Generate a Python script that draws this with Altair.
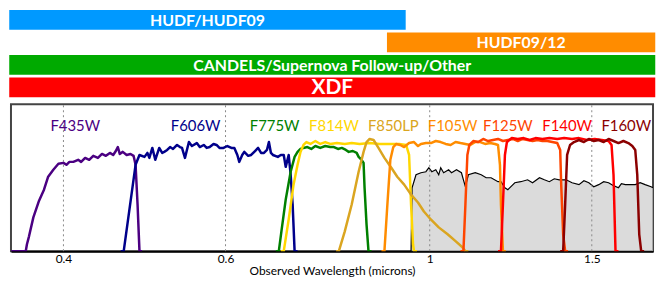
import altair as alt
import pandas as pd

# ---------------- survey coverage bars (wavelength in microns) ----------------
surveys = ["HUDF/HUDF09", "HUDF09/12", "CANDELS/Supernova Follow-up/Other", "XDF"]
survey_start = [0.3484, 0.8973, 0.3484, 0.3484]
survey_end = [0.9404, 1.757, 1.757, 1.757]
survey_colors = ["#0099ff", "#ff8c00", "#00aa00", "#ff0000"]

# ---------------- filter names, colours, label anchors ----------------
filters = ["F435W", "F606W", "F775W", "F814W", "F850LP", "F105W", "F125W", "F140W", "F160W"]
filter_colors = ["#4b0082", "#00008b", "#008000", "#ffd700", "#daa520",
                 "#ff8c00", "#ff4500", "#ff0000", "#8b0000"]
label_wl = [0.412, 0.5567, 0.6785, 0.787, 0.913, 1.059, 1.216, 1.410, 1.635]

tick_values = [0.4, 0.6, 1, 1.5]

# ---------------- filter throughput curves ----------------
f435w_wl = [0.351, 0.364, 0.3651, 0.367, 0.371, 0.376, 0.381, 0.385, 0.390, 0.395, 0.400, 0.403, 0.406,
            0.410, 0.415, 0.4181, 0.4223, 0.4266, 0.431, 0.436, 0.4405, 0.4448, 0.4493, 0.453, 0.456,
            0.4583, 0.4605, 0.464, 0.4685, 0.4731, 0.4767, 0.4791, 0.4815, 0.4838, 0.487]
f435w_t = [0, 0, 0.047, 0.101, 0.230, 0.338, 0.419, 0.507, 0.554, 0.595, 0.601, 0.588, 0.608, 0.608,
           0.622, 0.608, 0.635, 0.622, 0.649, 0.635, 0.662, 0.649, 0.669, 0.655, 0.682, 0.709, 0.662,
           0.676, 0.655, 0.662, 0.649, 0.588, 0.318, 0, 0]

f606w_wl = [0.4616, 0.4651, 0.4791, 0.4838, 0.4899, 0.4935, 0.4959, 0.4996, 0.5033, 0.5083, 0.5121,
            0.5147, 0.5185, 0.5223, 0.5262, 0.5315, 0.5354, 0.5381, 0.5421, 0.5475, 0.5516, 0.5584,
            0.5626, 0.5682, 0.5724, 0.5767, 0.5823, 0.5867, 0.5910, 0.5970, 0.6028, 0.6089, 0.6134,
            0.6180, 0.6210, 0.6256, 0.6288, 0.6350, 0.6397, 0.6460, 0.6509, 0.6558, 0.6606, 0.6655,
            0.6688, 0.6722, 0.6755, 0.6839, 0.6890, 0.6941, 0.6975, 0.7027, 0.7062, 0.7097, 0.7132, 0.7185]
f606w_t = [0, 0, 0.588, 0.655, 0.642, 0.669, 0.635, 0.703, 0.622, 0.703, 0.669, 0.676, 0.689, 0.709,
           0.696, 0.723, 0.709, 0.703, 0.635, 0.743, 0.716, 0.736, 0.709, 0.723, 0.703, 0.709, 0.730,
           0.723, 0.703, 0.703, 0.716, 0.703, 0.703, 0.655, 0.608, 0.655, 0.676, 0.649, 0.655, 0.682,
           0.703, 0.669, 0.669, 0.689, 0.743, 0.669, 0.655, 0.642, 0.655, 0.655, 0.574, 0.655, 0.520,
           0.318, 0, 0]

f775w_wl = [0.6805, 0.6856, 0.6905, 0.6975, 0.7062, 0.7132, 0.7185, 0.7238, 0.7292, 0.7363, 0.7436,
            0.7512, 0.7605, 0.7700, 0.7796, 0.7869, 0.7950, 0.8026, 0.8108, 0.8166, 0.8250, 0.8330,
            0.8371, 0.8433, 0.8475, 0.8496, 0.8538, 0.8580, 0.8646]
f775w_t = [0, 0, 0.149, 0.351, 0.541, 0.642, 0.676, 0.696, 0.703, 0.709, 0.696, 0.716, 0.703, 0.716,
           0.709, 0.709, 0.696, 0.703, 0.689, 0.676, 0.682, 0.669, 0.642, 0.622, 0.601, 0.432, 0.182, 0, 0]

f814w_wl = [0.6890, 0.6941, 0.7027, 0.7113, 0.7185, 0.7238, 0.7292, 0.7345, 0.7420, 0.7512, 0.7605,
            0.7700, 0.7796, 0.7928, 0.8086, 0.8227, 0.8391, 0.8604, 0.8819, 0.9039, 0.9265, 0.9428,
            0.9497, 0.9544, 0.9591, 0.9615, 0.9687]
f814w_t = [0, 0, 0.216, 0.453, 0.588, 0.676, 0.723, 0.743, 0.730, 0.750, 0.730, 0.743, 0.730, 0.736,
           0.730, 0.736, 0.730, 0.736, 0.730, 0.730, 0.730, 0.723, 0.655, 0.318, 0.047, 0, 0]

f850lp_wl = [0.7912, 0.7967, 0.8086, 0.8227, 0.8371, 0.8475, 0.8538, 0.8604, 0.8690, 0.8797, 0.8929,
             0.9084, 0.9220, 0.9381, 0.9544, 0.9711, 0.9856, 1.0028, 1.0228, 1.0458, 1.0667, 1.0853,
             1.0934, 1.1015]
f850lp_t = [0, 0, 0.135, 0.318, 0.541, 0.676, 0.743, 0.764, 0.757, 0.703, 0.635, 0.568, 0.507, 0.453,
            0.385, 0.331, 0.270, 0.216, 0.162, 0.115, 0.068, 0.027, 0, 0]

f105w_wl = [0.8863, 0.8929, 0.8995, 0.9062, 0.9129, 0.9197, 0.9289, 0.9381, 0.9497, 0.9615, 0.9711,
            0.9783, 0.9905, 1.0028, 1.0153, 1.0279, 1.0407, 1.0536, 1.0667, 1.0800, 1.0934, 1.1070,
            1.1207, 1.1347, 1.1487, 1.1630, 1.1775, 1.1863, 1.1921, 1.1951, 1.2010, 1.2099]
f105w_t = [0, 0, 0.318, 0.622, 0.709, 0.730, 0.723, 0.709, 0.736, 0.743, 0.716, 0.730, 0.736, 0.736,
           0.750, 0.743, 0.730, 0.723, 0.743, 0.736, 0.730, 0.723, 0.743, 0.743, 0.730, 0.736, 0.730,
           0.723, 0.588, 0.318, 0, 0]

f125w_wl = [1.0800, 1.0880, 1.0934, 1.0988, 1.1042, 1.1152, 1.1291, 1.1432, 1.1573, 1.1717, 1.1863,
            1.2010, 1.2159, 1.2311, 1.2464, 1.2618, 1.2775, 1.2934, 1.3095, 1.3257, 1.3422, 1.3589,
            1.3758, 1.3860, 1.3895, 1.3963, 1.4033, 1.4137]
f125w_t = [0, 0, 0.318, 0.655, 0.723, 0.750, 0.743, 0.764, 0.750, 0.757, 0.764, 0.750, 0.757, 0.764,
           0.750, 0.764, 0.757, 0.750, 0.757, 0.750, 0.750, 0.743, 0.736, 0.689, 0.453, 0.115, 0, 0]

f140w_wl = [1.1863, 1.1951, 1.2010, 1.2070, 1.2130, 1.2280, 1.2464, 1.2650, 1.2839, 1.3030, 1.3257,
            1.3489, 1.3758, 1.3998, 1.4278, 1.4526, 1.4816, 1.5112, 1.5376, 1.5644, 1.5760, 1.5838,
            1.5917, 1.6035]
f140w_t = [0, 0, 0.318, 0.655, 0.743, 0.770, 0.764, 0.770, 0.757, 0.770, 0.764, 0.770, 0.764, 0.770,
           0.764, 0.770, 0.757, 0.764, 0.757, 0.750, 0.723, 0.520, 0, 0]

f160w_wl = [1.3860, 1.3963, 1.4033, 1.4102, 1.4206, 1.4348, 1.4526, 1.4707, 1.4890, 1.5074, 1.5262,
            1.5454, 1.5644, 1.5838, 1.6035, 1.6235, 1.6437, 1.6600, 1.6723, 1.6807, 1.6890, 1.6973, 1.7100]
f160w_t = [0, 0, 0.318, 0.655, 0.723, 0.743, 0.757, 0.743, 0.764, 0.750, 0.757, 0.743, 0.764, 0.750,
           0.736, 0.750, 0.736, 0.716, 0.689, 0.520, 0.115, 0, 0]

# ---------------- galaxy spectrum (grey filled) ----------------
spectrum_wl = [0.9544, 0.9568, 0.9663, 0.9783, 0.9905, 0.9978, 1.0053, 1.0153, 1.0228, 1.0279, 1.0355,
               1.0484, 1.0562, 1.0693, 1.0826, 1.0880, 1.0934, 1.1015, 1.1207, 1.1375, 1.1516, 1.1659,
               1.1863, 1.1951, 1.2070, 1.2159, 1.2372, 1.2556, 1.2775, 1.2934, 1.3160, 1.3322, 1.3489,
               1.3656, 1.3826, 1.4067, 1.4278, 1.4526, 1.4707, 1.4890, 1.5074, 1.5262, 1.5454, 1.5644,
               1.5838, 1.6035, 1.6154, 1.6315, 1.6559, 1.6723, 1.6931, 1.7141, 1.7397, 1.7483]
spectrum_t = [0, 0.432, 0.520, 0.534, 0.541, 0.568, 0.541, 0.554, 0.520, 0.568, 0.534, 0.554, 0.534,
              0.554, 0.534, 0.486, 0.439, 0.520, 0.534, 0.520, 0.500, 0.500, 0.473, 0.473, 0.432, 0.419,
              0.466, 0.473, 0.486, 0.466, 0.500, 0.486, 0.473, 0.493, 0.486, 0.486, 0.466, 0.453, 0.480,
              0.466, 0.439, 0.453, 0.473, 0.466, 0.446, 0.432, 0.459, 0.453, 0.453, 0.453, 0.466, 0.453,
              0.439, 0.432]

curve_wls = [f435w_wl, f606w_wl, f775w_wl, f814w_wl, f850lp_wl, f105w_wl, f125w_wl, f140w_wl, f160w_wl]
curve_ts = [f435w_t, f606w_t, f775w_t, f814w_t, f850lp_t, f105w_t, f125w_t, f140w_t, f160w_t]

rows = []
for name, wls, ts in zip(filters, curve_wls, curve_ts, strict=True):
    for w, t in zip(wls, ts, strict=True):
        rows.append({"filter": name, "wl": w, "t": t})
curves_df = pd.DataFrame(rows)
spec_df = pd.DataFrame({"wl": spectrum_wl, "t": spectrum_t})
labels_df = pd.DataFrame({"filter": filters, "wl": label_wl})
ticks_df = pd.DataFrame({"wl": tick_values})
surveys_df = pd.DataFrame({"survey": surveys, "start": survey_start, "end": survey_end})

FONT = "Lato"

# ---------------- top: survey bars ----------------
xs_top = alt.Scale(type="log", domain=[0.3484, 1.757], nice=False)
ys_top = alt.Scale(domain=surveys, paddingInner=0.12, paddingOuter=0)

bars = alt.Chart(surveys_df).mark_bar(cornerRadius=0).encode(
    x=alt.X("start:Q", scale=xs_top, axis=None),
    x2="end:Q",
    y=alt.Y("survey:N", scale=ys_top, axis=None),
    color=alt.Color("survey:N", scale=alt.Scale(domain=surveys, range=survey_colors), legend=None),
)
bar_text = alt.Chart(surveys_df).transform_calculate(
    mid="sqrt(datum.start * datum.end)"
).transform_filter(alt.datum.survey != "XDF").mark_text(
    color="white", font=FONT, fontWeight="bold", fontSize=16, baseline="middle", dy=1
).encode(
    x=alt.X("mid:Q", scale=xs_top, axis=None),
    y=alt.Y("survey:N", scale=ys_top, axis=None),
    text="survey:N",
)
xdf_text = alt.Chart(surveys_df).transform_calculate(
    mid="sqrt(datum.start * datum.end)"
).transform_filter(alt.datum.survey == "XDF").mark_text(
    color="white", font=FONT, fontWeight="bold", fontSize=21, baseline="middle", dy=1
).encode(
    x=alt.X("mid:Q", scale=xs_top, axis=None),
    y=alt.Y("survey:N", scale=ys_top, axis=None),
    text="survey:N",
)
top = alt.layer(bars, bar_text, xdf_text).properties(
    width=651, height=88, view=alt.ViewBackground(stroke="transparent")
)

# ---------------- bottom: filter curves ----------------
xs = alt.Scale(type="log", domain=[0.3508, 1.7483], nice=False)
ys = alt.Scale(domain=[0, 1], nice=False)
fcolor = alt.Color("filter:N", scale=alt.Scale(domain=filters, range=filter_colors), legend=None)

area = alt.Chart(spec_df).mark_area(
    color="#cccccc", clip=True, line={"color": "black", "strokeWidth": 1.2}
).encode(
    x=alt.X("wl:Q", scale=xs, axis=alt.Axis(
        values=tick_values, format="~g", title="Observed Wavelength (microns)",
        grid=False, ticks=False, domain=True, domainColor="black", domainWidth=2,
        labelFont=FONT, labelFontSize=12, labelColor="black", labelPadding=2,
        titleFont=FONT, titleFontSize=12, titleFontWeight="normal", titleColor="black",
        titlePadding=2)),
    y=alt.Y("t:Q", scale=ys, axis=None),
)
grid = alt.Chart(ticks_df).mark_rule(color="#888888", strokeDash=[2, 3], strokeWidth=1).encode(
    x=alt.X("wl:Q", scale=xs),
    y=alt.datum(0),
    y2=alt.datum(1),
)
lines = alt.Chart(curves_df).mark_line(strokeWidth=2.5, clip=True, strokeJoin="round").encode(
    x=alt.X("wl:Q", scale=xs),
    y=alt.Y("t:Q", scale=ys),
    color=fcolor,
)
labels = alt.Chart(labels_df).mark_text(font=FONT, fontSize=15, baseline="middle").encode(
    x=alt.X("wl:Q", scale=xs),
    y=alt.datum(0.85),
    text="filter:N",
    color=fcolor,
)
bottom = alt.layer(area, grid, lines, labels).properties(
    width=647, height=148, view=alt.ViewBackground(stroke="#444444", strokeWidth=2)
)

chart = alt.vconcat(top, bottom, spacing=3, center=True).resolve_scale(
    color="independent"
).properties(padding=0)

chart.save("out.html", embed_options={"renderer": "svg", "actions": False})
